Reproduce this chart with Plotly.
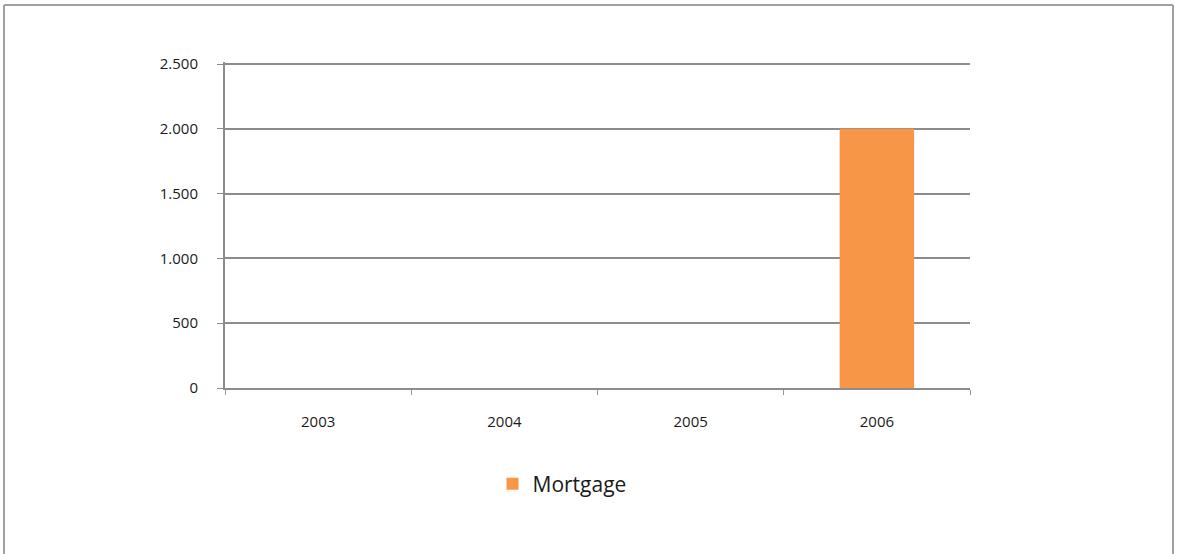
import plotly.graph_objects as go

# Yearly mortgage amounts
years = ["2003", "2004", "2005", "2006"]
mortgage = [0, 0, 0, 2000]
y_ticks = [0, 500, 1000, 1500, 2000, 2500]

W, H = 1180, 554
L, R, T, B = 225, 210, 62, 166

fig = go.Figure()
fig.add_trace(go.Bar(
    x=years, y=mortgage, name="Mortgage",
    marker=dict(color="#F79646", line=dict(width=0)),
    width=0.4, showlegend=True,
))

pw = W - L - R
ph = H - T - B

fig.update_layout(
    width=W, height=H,
    margin=dict(l=L, r=R, t=T, b=B),
    paper_bgcolor="white", plot_bgcolor="white",
    separators=",.",
    font=dict(family="Open Sans, Liberation Sans, sans-serif", size=15, color="#1a1a1a"),
    showlegend=True,
    legend=dict(
        orientation="h", x=(562 - L) / pw, xanchor="center",
        y=(H - B - 484) / ph, yanchor="middle",
        font=dict(size=21, color="#1a1a1a"),
        itemwidth=30, bgcolor="rgba(0,0,0,0)",
    ),
    xaxis=dict(
        type="category", tickson="boundaries", ticks="outside", ticklen=5,
        tickcolor="#999999", showline=True, linecolor="#8c8c8c", linewidth=2,
        showgrid=False, ticklabelstandoff=19, tickfont=dict(size=15),
    ),
    yaxis=dict(
        range=[0, 2516], tickvals=y_ticks, tickformat=",d",
        ticks="outside", ticklen=6, tickcolor="#8c8c8c",
        showline=True, linecolor="#8c8c8c", linewidth=2,
        showgrid=True, gridcolor="#8c8c8c", gridwidth=2,
        zeroline=False, ticklabelstandoff=16, tickfont=dict(size=15),
    ),
    bargap=0.6,
)

# Outer frame around the chart area
x0 = (4 - L) / pw
x1 = (1173 - L) / pw
y_top = (H - B - 5) / ph
y_bot = (H - B - 600) / ph
fig.add_shape(type="line", xref="paper", yref="paper", x0=x0, x1=x1, y0=y_top, y1=y_top,
              line=dict(color="#a0a0a0", width=2))
fig.add_shape(type="line", xref="paper", yref="paper", x0=x0, x1=x0, y0=y_top, y1=y_bot,
              line=dict(color="#a0a0a0", width=2))
fig.add_shape(type="line", xref="paper", yref="paper", x0=x1, x1=x1, y0=y_top, y1=y_bot,
              line=dict(color="#a0a0a0", width=2))

fig.write_html("out.html")
